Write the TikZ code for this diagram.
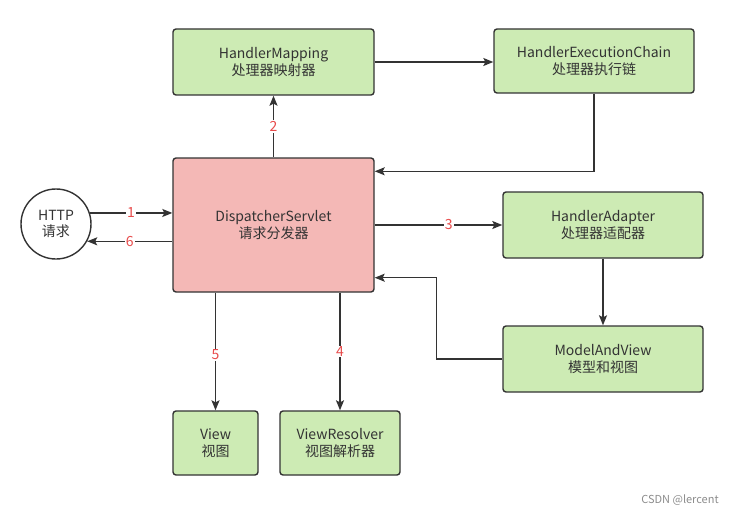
\documentclass[tikz,border=0pt]{standalone}
\usepackage{fontspec}
\setmainfont{Noto Sans CJK SC}
\usetikzlibrary{arrows.meta,calc}
\definecolor{gfill}{HTML}{CDEBB4}
\definecolor{pfill}{HTML}{F4B8B6}
\definecolor{edge}{HTML}{333333}
\definecolor{lbl}{HTML}{E84B4B}
\tikzset{
  box/.style={draw=edge, line width=1.4pt, rounded corners=3pt, fill=gfill, align=center, text=edge, font=\fontsize{14}{16.5}\selectfont, inner sep=0pt},
  arr/.style={draw=edge, line width=1.2pt, -{Stealth[length=10pt,width=8pt,inset=2pt]}},
  num/.style={fill=white, text=lbl, font=\fontsize{14}{16}\selectfont, inner sep=1pt},
}
\begin{document}
\begin{tikzpicture}[x=1pt,y=-1pt]
\useasboundingbox (0,0) rectangle (736,516);
\node[box, minimum width=201pt, minimum height=66pt] (hm) at (273.5,62) {HandlerMapping\\处理器映射器};
\node[box, minimum width=200pt, minimum height=64pt] (hec) at (594,61) {HandlerExecutionChain\\处理器执行链};
\node[box, fill=pfill, minimum width=201pt, minimum height=134pt] (ds) at (273.5,225) {DispatcherServlet\\请求分发器};
\node[draw=edge, line width=1.4pt, circle, minimum size=70pt, inner sep=0pt, align=center, text=edge, font=\fontsize{14}{16.5}\selectfont] (http) at (56,224) {HTTP\\请求};
\node[box, minimum width=200pt, minimum height=66pt] (ha) at (603,225) {HandlerAdapter\\处理器适配器};
\node[box, minimum width=200pt, minimum height=66pt] (mv) at (603,359) {ModelAndView\\模型和视图};
\node[box, minimum width=85pt, minimum height=64pt] (view) at (215.5,443) {View\\视图};
\node[box, minimum width=120pt, minimum height=64pt] (vr) at (340,443) {ViewResolver\\视图解析器};
\node[text=black!45, font=\fontsize{11}{13}\selectfont] (wm) at (680,500) {CSDN @lercent};

\draw[arr] (http.18) -- node[num]{1} (ds.west |- http.18);
\draw[arr] (ds.west |- http.-29) -- node[num]{6} (http.-29);
\draw[arr] (ds.north) -- node[num]{2} (hm.south);
\draw[arr] (hm.east) -- (hm.east -| hec.west);
\draw[arr] (hec.south) |- ([yshift=-14pt]ds.north east);
\draw[arr] (ds.east) -- node[num, pos=0.58]{3} (ha.west);
\draw[arr] (ha.south) -- (mv.north);
\draw[arr] (mv.west) -- ++(-66,0) |- ([yshift=15pt]ds.south east);
\draw[arr] (view.north |- ds.south) -- node[num, pos=0.53]{5} (view.north);
\draw[arr] (vr.north |- ds.south) -- node[num, pos=0.5]{4} (vr.north);
\end{tikzpicture}
\end{document}
